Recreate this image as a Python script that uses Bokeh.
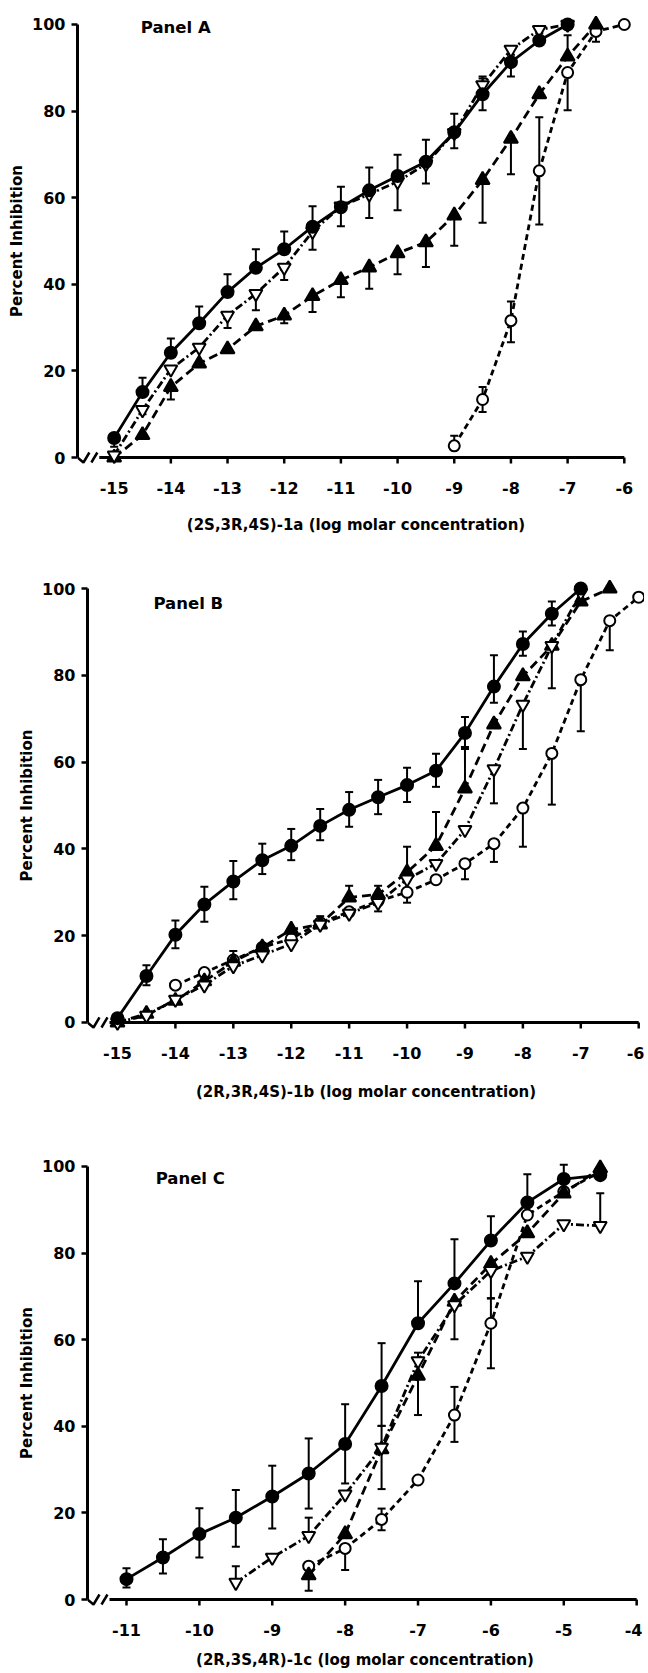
from bokeh.plotting import figure
from bokeh.models import ColumnDataSource, Whisker, TeeHead, Label, FixedTicker
from bokeh.layouts import column
from bokeh.embed import file_html
from bokeh.resources import INLINE

# ---------------- data ----------------
Y_TICKS = [0, 20, 40, 60, 80, 100]

A_XTICKS = [-15, -14, -13, -12, -11, -10, -9, -8, -7, -6]
A_XLABELS = ["-15", "-14", "-13", "-12", "-11", "-10", "-9", "-8", "-7", "-6"]
B_XTICKS = [-15, -14, -13, -12, -11, -10, -9, -8, -7, -6]
B_XLABELS = ["-15", "-14", "-13", "-12", "-11", "-10", "-9", "-8", "-7", "-6"]
C_XTICKS = [-11, -10, -9, -8, -7, -6, -5, -4]
C_XLABELS = ["-11", "-10", "-9", "-8", "-7", "-6", "-5", "-4"]

# Panel A
A_fc_x = [-15, -14.5, -14, -13.5, -13, -12.5, -12, -11.5, -11, -10.5, -10, -9.5, -9, -8.5, -8, -7.5, -7]
A_fc_y = [4.5, 15.1, 24.2, 31.0, 38.2, 43.8, 48.1, 53.3, 57.8, 61.7, 65.0, 68.3, 75.1, 83.9, 91.3, 96.3, 100]
A_fc_hi = [4.5, 18.4, 27.5, 34.9, 42.3, 48.1, 52.2, 58.0, 62.5, 67.0, 69.9, 73.4, 79.4, 88.0, 93.0, 98.0, 100]
A_fc_lo = [2.5, 15.1, 24.2, 31.0, 38.2, 43.8, 48.1, 53.3, 57.8, 61.7, 65.0, 68.3, 75.1, 83.9, 91.3, 96.3, 100]

A_ot_x = [-15, -14.5, -14, -13.5, -13, -12.5, -12, -11.5, -11, -10.5, -10, -9.5, -9, -8.5, -8, -7.5, -7]
A_ot_y = [0.5, 11.0, 20.4, 25.4, 32.8, 37.8, 43.9, 52.2, 58.0, 60.8, 63.7, 67.8, 75.0, 86.0, 94.2, 98.8, 100]
A_ot_hi = [0.5, 11.0, 20.4, 25.4, 32.8, 37.8, 43.9, 52.2, 58.0, 60.8, 63.7, 67.8, 75.0, 87.5, 94.2, 98.8, 100]
A_ot_lo = [0.5, 10.0, 20.4, 25.4, 29.9, 34.0, 41.0, 48.0, 53.4, 55.3, 57.1, 63.3, 71.4, 80.2, 88.0, 98.8, 100]

A_ft_x = [-15, -14.5, -14, -13.5, -13, -12.5, -12, -11.5, -11, -10.5, -10, -9.5, -9, -8.5, -8, -7.5, -7, -6.5]
A_ft_y = [0, 5.2, 16.3, 21.7, 25.0, 30.3, 32.8, 37.3, 41.0, 43.9, 47.2, 49.7, 55.9, 64.1, 73.6, 83.9, 92.6, 100]
A_ft_hi = [0, 5.2, 16.3, 21.7, 25.0, 30.3, 32.8, 37.3, 41.0, 43.9, 47.2, 49.7, 55.9, 64.1, 73.6, 83.9, 97.5, 100]
A_ft_lo = [0, 5.2, 13.4, 21.7, 25.0, 30.3, 31.0, 33.6, 37.0, 39.0, 42.3, 44.0, 48.9, 54.2, 65.4, 83.9, 92.6, 100]

A_oc_x = [-9, -8.5, -8, -7.5, -7, -6.5, -6]
A_oc_y = [2.7, 13.4, 31.6, 66.2, 88.9, 98.4, 100]
A_oc_hi = [5.0, 16.3, 36.0, 78.6, 88.9, 98.4, 100]
A_oc_lo = [2.7, 10.5, 26.6, 53.8, 80.2, 96.0, 100]

# Panel B
B_fc_x = [-15, -14.5, -14, -13.5, -13, -12.5, -12, -11.5, -11, -10.5, -10, -9.5, -9, -8.5, -8, -7.5, -7]
B_fc_y = [1.0, 10.7, 20.2, 27.2, 32.5, 37.4, 40.7, 45.3, 49.0, 51.9, 54.7, 58.0, 66.7, 77.4, 87.2, 94.2, 100]
B_fc_hi = [1.0, 13.2, 23.5, 31.3, 37.2, 41.2, 44.6, 49.2, 53.1, 55.9, 58.7, 61.9, 70.4, 84.6, 90.1, 97.0, 100]
B_fc_lo = [1.0, 8.6, 17.1, 23.2, 28.4, 34.2, 37.4, 42.0, 45.1, 48.0, 50.8, 54.3, 63.5, 73.7, 84.5, 91.5, 100]

B_ot_x = [-15, -14.5, -14, -13.5, -13, -12.5, -12, -11.5, -11, -10.5, -10, -9.5, -9, -8.5, -8, -7.5, -7]
B_ot_y = [0, 1.6, 5.3, 8.6, 13.0, 15.5, 18.1, 22.6, 25.1, 27.6, 33.0, 36.6, 44.4, 58.4, 73.3, 86.8, 99.0]
B_ot_hi = [0, 1.6, 5.3, 8.6, 13.0, 15.5, 18.1, 22.6, 25.1, 27.6, 33.0, 36.6, 44.4, 58.4, 73.3, 86.8, 99.0]
B_ot_lo = [0, 1.6, 5.3, 8.6, 13.0, 15.5, 18.1, 22.6, 25.1, 25.6, 33.0, 36.6, 44.4, 50.5, 63.0, 77.0, 99.0]

B_ft_x = [-15, -14.5, -14, -13.5, -13, -12.5, -12, -11.5, -11, -10.5, -10, -9.5, -9, -8.5, -8, -7.5, -7, -6.5]
B_ft_y = [0, 2.0, 5.0, 9.5, 14.0, 17.3, 21.4, 22.6, 28.8, 29.5, 34.6, 40.7, 53.9, 68.7, 79.8, 86.8, 97.0, 100]
B_ft_hi = [0, 2.0, 5.0, 9.5, 16.5, 17.3, 21.4, 24.5, 31.5, 31.5, 40.5, 48.5, 63.0, 68.7, 79.8, 86.8, 97.0, 100]
B_ft_lo = [0, 2.0, 5.0, 9.5, 14.0, 17.3, 21.4, 22.6, 28.8, 29.5, 34.6, 40.7, 53.9, 68.7, 79.8, 86.8, 97.0, 100]

B_oc_x = [-14, -13.5, -13, -12.5, -12, -11.5, -11, -10.5, -10, -9.5, -9, -8.5, -8, -7.5, -7, -6.5, -6]
B_oc_y = [8.6, 11.5, 14.4, 17.3, 19.3, 23.0, 25.5, 28.0, 30.0, 32.9, 36.6, 41.2, 49.4, 62.0, 79.0, 92.6, 98.0]
B_oc_hi = [8.6, 11.5, 14.4, 17.3, 19.3, 23.0, 25.5, 28.0, 30.0, 32.9, 36.6, 41.2, 49.4, 62.0, 79.0, 92.6, 98.0]
B_oc_lo = [8.6, 11.5, 14.4, 17.3, 19.3, 23.0, 25.5, 28.0, 27.6, 32.9, 33.0, 37.0, 40.5, 50.2, 67.1, 85.8, 98.0]

# Panel C
C_fc_x = [-11, -10.5, -10, -9.5, -9, -8.5, -8, -7.5, -7, -6.5, -6, -5.5, -5, -4.5]
C_fc_y = [4.7, 9.7, 15.1, 18.9, 23.8, 29.1, 35.9, 49.3, 63.8, 73.0, 82.9, 91.7, 97.1, 98.0]
C_fc_hi = [7.2, 13.9, 21.1, 25.3, 30.9, 37.2, 45.1, 59.2, 73.5, 83.2, 88.5, 98.2, 100.4, 98.0]
C_fc_lo = [2.8, 6.0, 9.7, 12.2, 16.4, 21.0, 26.8, 40.1, 63.8, 73.0, 82.9, 91.7, 97.1, 98.0]

C_ot_x = [-9.5, -9, -8.5, -8, -7.5, -7, -6.5, -6, -5.5, -5, -4.5]
C_ot_y = [3.9, 9.7, 14.7, 24.3, 35.1, 55.1, 68.0, 75.9, 79.2, 86.7, 86.3]
C_ot_hi = [7.7, 9.7, 18.9, 24.3, 35.1, 57.0, 68.0, 75.9, 79.2, 86.7, 93.8]
C_ot_lo = [3.9, 9.7, 14.7, 24.3, 35.1, 55.1, 68.0, 69.5, 79.2, 86.7, 86.3]

C_ft_x = [-8.5, -8, -7.5, -7, -6.5, -6, -5.5, -5, -4.5]
C_ft_y = [5.6, 15.1, 34.7, 51.7, 68.8, 77.5, 84.6, 93.8, 99.6]
C_ft_hi = [5.6, 15.1, 40.1, 51.7, 68.8, 77.5, 84.6, 93.8, 99.6]
C_ft_lo = [2.0, 15.1, 25.5, 42.6, 60.1, 77.5, 84.6, 93.8, 99.6]

C_oc_x = [-8.5, -8, -7.5, -7, -6.5, -6, -5.5, -5, -4.5]
C_oc_y = [7.7, 11.8, 18.5, 27.6, 42.6, 63.8, 88.8, 94.2, 98.8]
C_oc_hi = [7.7, 11.8, 21.0, 27.6, 49.1, 69.6, 88.8, 94.2, 98.8]
C_oc_lo = [7.7, 6.8, 16.0, 27.6, 36.4, 53.4, 88.8, 94.2, 98.8]

PANEL_TITLES = ["Panel A", "Panel B", "Panel C"]
X_TITLES = ["(2S,3R,4S)-1a (log molar concentration)",
            "(2R,3R,4S)-1b (log molar concentration)",
            "(2R,3S,4R)-1c (log molar concentration)"]
Y_TITLE = "Percent Inhibition"

# ---------------- styling ----------------
FONT = "DejaVu Sans"
INK = "black"
PPY = 4.33          # pixels per percent (all panels)
Y_LO, Y_HI = -3, 103


def add_series(p, xs, ys, hi, lo, marker, fill, dash, size):
    up = [(x, y, h) for x, y, h in zip(xs, ys, hi) if h > y + 0.3]
    dn = [(x, y, l) for x, y, l in zip(xs, ys, lo) if l < y - 0.3]
    if up:
        src = ColumnDataSource(dict(base=[u[0] for u in up], lower=[u[1] for u in up], upper=[u[2] for u in up]))
        p.add_layout(Whisker(source=src, base="base", lower="lower", upper="upper",
                             upper_head=TeeHead(size=8, line_width=2, line_color=INK),
                             lower_head=None, line_width=2, line_color=INK, level="underlay"))
    if dn:
        src = ColumnDataSource(dict(base=[u[0] for u in dn], lower=[u[2] for u in dn], upper=[u[1] for u in dn]))
        p.add_layout(Whisker(source=src, base="base", lower="lower", upper="upper",
                             lower_head=TeeHead(size=8, line_width=2, line_color=INK),
                             upper_head=None, line_width=2, line_color=INK, level="underlay"))
    p.line(xs, ys, line_color=INK, line_width=2.8, line_dash=dash)
    return (xs, ys, marker, fill, size)


def make_panel(idx, width, height, x0, ppu, x_end, min_left, min_top, min_bottom, label_gap,
               bound_px, xticks, xlabels, series, title_xy):
    p = figure(width=width, height=height, x_range=(x0, x_end), y_range=(Y_LO, Y_HI),
               output_backend="svg", toolbar_location=None,
               min_border_left=min_left, min_border_right=0,
               min_border_top=min_top, min_border_bottom=min_bottom)
    p.outline_line_color = None
    p.grid.visible = False
    p.background_fill_color = "white"
    p.border_fill_color = "white"

    def px2x(px):
        return x0 + px / ppu

    def px2y(py):
        return py / PPY

    # x axis: Bokeh axis supplies tick labels and title; the rule at y=0 is drawn below
    xa = p.xaxis[0]
    xa.ticker = FixedTicker(ticks=xticks)
    xa.major_label_overrides = {t: l for t, l in zip(xticks, xlabels)}
    if bound_px is not None:
        xa.bounds = (px2x(bound_px), xticks[-1])
    xa.axis_line_color = None
    xa.major_tick_line_color = None
    xa.major_tick_in = 0
    xa.major_tick_out = 0
    xa.minor_tick_line_color = None
    xa.major_label_text_font = FONT
    xa.major_label_text_font_style = "bold"
    xa.major_label_text_font_size = "16px"
    xa.major_label_text_color = INK
    xa.major_label_standoff = 11
    xa.axis_label = X_TITLES[idx]
    xa.axis_label_text_font = FONT
    xa.axis_label_text_font_style = "bold"
    xa.axis_label_text_font_size = "15px"
    xa.axis_label_text_color = INK
    xa.axis_label_standoff = label_gap

    # rule of the x axis at y = 0, ticks hanging below it
    x_start = px2x(22)
    p.segment(x0=[x_start], y0=[0], x1=[xticks[-1]], y1=[0], line_color=INK, line_width=3)
    p.segment(x0=xticks, y0=[0] * len(xticks), x1=xticks, y1=[px2y(-6)] * len(xticks),
              line_color=INK, line_width=2.5)
    # axis break marks
    p.line([px2x(0), px2x(6), px2x(12)], [0, px2y(-5), px2y(5)], line_color=INK, line_width=2.5)
    p.line([px2x(14), px2x(20)], [px2y(-5), px2y(5)], line_color=INK, line_width=2.5)

    # y axis
    ya = p.yaxis[0]
    ya.ticker = FixedTicker(ticks=Y_TICKS)
    ya.bounds = (0, 100)
    ya.axis_line_width = 3
    ya.axis_line_color = INK
    ya.major_tick_line_width = 2.5
    ya.major_tick_in = 0
    ya.major_tick_out = 6
    ya.minor_tick_line_color = None
    ya.major_label_text_font = FONT
    ya.major_label_text_font_style = "bold"
    ya.major_label_text_font_size = "16px"
    ya.major_label_text_color = INK
    ya.major_label_standoff = 6
    ya.axis_label = Y_TITLE
    ya.axis_label_text_font = FONT
    ya.axis_label_text_font_style = "bold"
    ya.axis_label_text_font_size = "15px"
    ya.axis_label_text_color = INK
    ya.axis_label_standoff = 3

    markers = []
    for s in series:
        markers.append(add_series(p, *s))
    for xs, ys, marker, fill, size in markers:
        p.scatter(xs, ys, marker=marker, size=size, fill_color=fill, line_color=INK, line_width=2)

    p.add_layout(Label(x=title_xy[0], y=title_xy[1], text=PANEL_TITLES[idx],
                       text_font=FONT, text_font_style="bold", text_font_size="16.5px",
                       text_color=INK, text_baseline="middle", text_align="left"))
    return p


SOLID = "solid"
DASHDOT = "8 3 2 3"
DASH = "9 5"
SHORTDASH = "6 4"

pA = make_panel(0, 648, 575, -15.647, 57.2, -5.82, 86, 11, 105, 19, 37, A_XTICKS, A_XLABELS, [
    (A_oc_x, A_oc_y, A_oc_hi, A_oc_lo, "circle", "white", SHORTDASH, 11),
    (A_ft_x, A_ft_y, A_ft_hi, A_ft_lo, "triangle", INK, DASH, 14),
    (A_ot_x, A_ot_y, A_ot_hi, A_ot_lo, "inverted_triangle", "white", DASHDOT, 13),
    (A_fc_x, A_fc_y, A_fc_hi, A_fc_lo, "circle", INK, SOLID, 12),
], (-14.53, 99.3))
pA.margin = (0, 0, 0, -10)

pB = make_panel(1, 644, 578, -15.518, 57.9, -5.9, 87, 0, 118, 21, None, B_XTICKS, B_XLABELS, [
    (B_oc_x, B_oc_y, B_oc_hi, B_oc_lo, "circle", "white", SHORTDASH, 11),
    (B_ft_x, B_ft_y, B_ft_hi, B_ft_lo, "triangle", INK, DASH, 14),
    (B_ot_x, B_ot_y, B_ot_hi, B_ot_lo, "inverted_triangle", "white", DASHDOT, 13),
    (B_fc_x, B_fc_y, B_fc_hi, B_fc_lo, "circle", INK, SOLID, 12),
], (-14.38, 96.5))

pC = make_panel(2, 642, 520, -11.535, 72.9, -3.92, 87, 0, 61, 12, 17, C_XTICKS, C_XLABELS, [
    (C_oc_x, C_oc_y, C_oc_hi, C_oc_lo, "circle", "white", SHORTDASH, 11),
    (C_ft_x, C_ft_y, C_ft_hi, C_ft_lo, "triangle", INK, DASH, 14),
    (C_ot_x, C_ot_y, C_ot_hi, C_ot_lo, "inverted_triangle", "white", DASHDOT, 13),
    (C_fc_x, C_fc_y, C_fc_hi, C_fc_lo, "circle", INK, SOLID, 12),
], (-10.6, 97.2))

layout = column(pA, pB, pC, spacing=0)
open("out.html", "w").write(file_html(layout, INLINE))
